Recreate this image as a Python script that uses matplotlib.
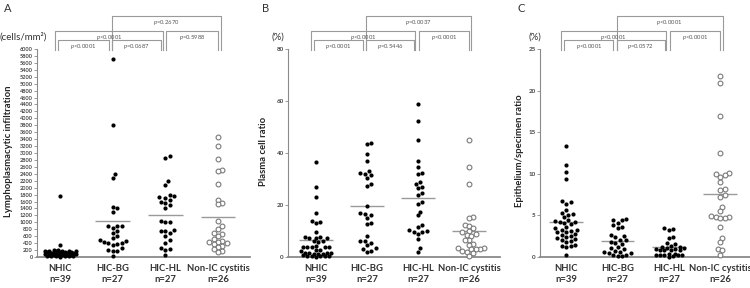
import numpy as np
import matplotlib
matplotlib.use('Agg')
import matplotlib.pyplot as plt
from matplotlib.transforms import blended_transform_factory

plt.rcParams['font.family'] = ['Lato', 'DejaVu Sans']
plt.rcParams['mathtext.fontset'] = 'custom'
plt.rcParams['mathtext.it'] = 'Lato:italic'
plt.rcParams['mathtext.rm'] = 'Lato'

groups = ['NHIC', 'HIC-BG', 'HIC-HL', 'Non-IC cystitis']
group_n = [39, 27, 27, 26]

# A: lymphoplasmacytic infiltration (cells/mm2)
lpi_nhic = [1750, 340, 200, 190, 185, 180, 175, 170, 165, 160, 150, 145, 140, 135, 130,
            125, 120, 115, 110, 105, 100, 95, 90, 85, 80, 75, 70, 65, 60, 55, 50, 45,
            40, 35, 30, 25, 20, 15, 10]
lpi_bg = [5700, 3800, 2400, 2290, 1440, 1400, 1300, 900, 900, 880, 850, 750, 700, 620,
          560, 480, 460, 420, 400, 400, 380, 360, 250, 200, 180, 180, 20]
lpi_hl = [2900, 2850, 2200, 2080, 1800, 1750, 1720, 1700, 1650, 1600, 1560, 1500, 1420,
          1030, 1000, 1000, 780, 760, 750, 700, 600, 480, 400, 250, 220, 200, 60]
lpi_nonic = [3450, 3200, 2820, 2500, 2480, 2100, 1650, 1550, 1520, 1030, 900, 820, 700,
             650, 600, 520, 450, 430, 420, 400, 380, 320, 300, 220, 180, 150]

# B: plasma cell ratio (%)
pc_nhic = [36.5, 27, 23, 17, 14, 13.5, 13.2, 9.5, 7.8, 7.6, 7.5, 7.4, 7.3, 6.2, 6, 5.8,
           4.2, 4, 4, 3.9, 3.8, 3.7, 2.8, 2.6, 2.5, 1.6, 1.5, 1.5, 1.4, 1.3, 1.2, 1.1,
           0.6, 0.5, 0.4, 0.3, 0.3, 0.2, 0.1]
pc_bg = [44, 43.5, 39.5, 37, 33, 32.5, 32, 31.5, 30.5, 28, 27.5, 19.5, 17, 16.5, 16, 15,
         13.2, 12.8, 8, 6.2, 6, 5.5, 4.5, 3.5, 3, 2.2, 2]
pc_hl = [59, 52.5, 45, 37, 34.5, 32.5, 32, 29, 28, 27, 26.5, 24.5, 24, 21, 20.5, 17.5, 16,
         12.5, 11.5, 10.5, 10, 9.5, 9.5, 9, 7, 3.5, 2]
pc_nonic = [45, 34.5, 28, 15.5, 15, 12.5, 12, 11, 10, 9.5, 9, 8.5, 8, 6.5, 6.5, 5, 4.5,
            3.5, 3.5, 3.2, 3, 3, 2.5, 2, 1.5, 0.5]

# C: epithelium/specimen ratio (%)
ep_nhic = [13.3, 11, 10.2, 9.4, 6.7, 6.6, 6.4, 5.6, 5.3, 5.2, 5.1, 4.8, 4.5, 4.3, 4.2,
           4.2, 4.1, 4.0, 3.6, 3.5, 3.3, 3.2, 3.1, 3.0, 3.0, 2.8, 2.6, 2.5, 2.4, 2.3, 2.2,
           2.0, 1.9, 1.8, 1.4, 1.3, 1.3, 1.2, 0.2]
ep_bg = [4.6, 4.5, 4.4, 4.1, 3.9, 3.6, 3.5, 2.6, 2.5, 2.4, 2.1, 2.0, 1.8, 1.7, 1.6, 1.2,
         1.1, 1.0, 0.7, 0.6, 0.6, 0.5, 0.5, 0.3, 0.2, 0.1, 0.1]
ep_hl = [3.5, 3.4, 3.2, 2.4, 2.3, 1.7, 1.6, 1.3, 1.2, 1.2, 1.1, 1.1, 1.0, 1.0, 0.9, 0.9,
         0.8, 0.8, 0.4, 0.4, 0.3, 0.3, 0.3, 0.2, 0.2, 0.1, 0.0]
ep_nonic = [21.7, 20.9, 17, 12.5, 10.1, 10.0, 9.8, 9.6, 9.0, 8.2, 8.0, 7.5, 7.2, 6.0, 5.5,
            4.9, 4.8, 4.8, 4.7, 4.7, 3.6, 2.3, 1.8, 1.0, 0.8, 0.3]

# p values: top (BG vs non-IC), NHIC vs HL, HL vs non-IC, NHIC vs BG, BG vs HL
p_a = ['=0.2670', '<0.0001', '=0.5988', '<0.0001', '=0.0687']
p_b = ['=0.0037', '<0.0001', '<0.0001', '<0.0001', '=0.5446']
p_c = ['<0.0001', '<0.0001', '<0.0001', '<0.0001', '=0.0572']

W, H = 750, 288
fig = plt.figure(figsize=(W / 100, H / 100), dpi=100)


def fx(px):
    return px / W


def fy(py):
    return 1 - py / H


def swarm_x(ax, x0, vals, d, maxw=17):
    # simple beeswarm in pixel space, capped width (dots overlap when crowded)
    vals = np.asarray(vals, float)
    pix = ax.transData.transform(np.column_stack([np.full(len(vals), x0), vals]))
    cx = pix[0, 0]
    out = np.zeros(len(vals))
    cands = [0.0]
    k = 1
    while k * d / 2 <= maxw:
        cands += [k * d / 2, -k * d / 2]
        k += 1
    placed = []
    for i in np.argsort(vals):
        py = pix[i, 1]
        best, best_dist = 0.0, -1
        for c in cands:
            px = cx + c
            md = min([np.hypot(px - qx, py - qy) for qx, qy in placed] + [1e9])
            if md >= d * 0.97:
                best = c
                break
            if md > best_dist + 0.3:
                best, best_dist = c, md
        placed.append((cx + best, py))
        out[i] = cx + best
    return ax.transData.inverted().transform(np.column_stack([out, pix[:, 1]]))[:, 0]


panels = [
    dict(left=37, right=250, xlim=(0.56, 4.61), ylim=6000, yticks=np.arange(0, 6001, 200),
         data=[lpi_nhic, lpi_bg, lpi_hl, lpi_nonic], p=p_a, letter='A', letter_x=4,
         ylabel='Lymphoplasmacytic infiltration', ylabel_x=9, unit='(cells/mm²)',
         unit_x=47, tick_fs=4.0),
    dict(left=288, right=500, xlim=(0.45, 4.61), ylim=80, yticks=np.arange(0, 81, 20),
         data=[pc_nhic, pc_bg, pc_hl, pc_nonic], p=p_b, letter='B', letter_x=262,
         ylabel='Plasma cell ratio', ylabel_x=263, unit='(%)', unit_x=284, tick_fs=4.5),
    dict(left=540, right=750, xlim=(0.49, 4.58), ylim=25, yticks=np.arange(0, 26, 5),
         data=[ep_nhic, ep_bg, ep_hl, ep_nonic], p=p_c, letter='C', letter_x=518,
         ylabel='Epithelium/specimen ratio', ylabel_x=520, unit='(%)', unit_x=541,
         tick_fs=4.5),
]

top_px, bot_px = 49, 257
axis_col = '#8a8a8a'
pos = np.arange(1, 5)

for pn in panels:
    ax = fig.add_axes([fx(pn['left']), fy(bot_px), fx(pn['right'] - pn['left']),
                       (bot_px - top_px) / H])
    ax.set_xlim(*pn['xlim'])
    ax.set_ylim(0, pn['ylim'])
    for s in ['top', 'right']:
        ax.spines[s].set_visible(False)
    ax.spines['left'].set_color(axis_col)
    ax.spines['left'].set_linewidth(0.8)
    ax.spines['bottom'].set_color(axis_col)
    ax.spines['bottom'].set_linewidth(1.3)
    ax.set_yticks(pn['yticks'])
    ax.tick_params(axis='y', length=2, width=0.6, color=axis_col, pad=1,
                   labelsize=pn['tick_fs'], labelcolor='#444')
    for lab in ax.get_yticklabels():
        lab.set_fontweight('bold')
    ax.set_xticks(pos)
    ax.set_xticklabels([f'{g}\nn={n}' for g, n in zip(groups, group_n)],
                       fontsize=6.8, fontweight='bold', color='#333', linespacing=1.35)
    ax.tick_params(axis='x', length=0, pad=5)

    for i, vals in enumerate(pn['data']):
        xs = swarm_x(ax, pos[i], vals, 4.4)
        m = np.mean(vals)
        ax.hlines(m, pos[i] - 0.33, pos[i] + 0.33, color='#9a9a9a', lw=1.0, zorder=1)
        if i < 3:
            ax.scatter(xs, vals, s=9, color='black', lw=0, zorder=3, clip_on=False)
        else:
            ax.scatter(xs, vals, s=12, facecolor='white', edgecolor='#7a7a7a', lw=0.8,
                       zorder=3, clip_on=False)

    fig.text(fx(pn['ylabel_x']), fy(151), pn['ylabel'], rotation=90,
             fontsize=6.8, fontweight='bold', color='#222', ha='center', va='center')
    fig.text(fx(pn['unit_x']), fy(37), pn['unit'], fontsize=7, color='#333',
             ha='right', va='center')
    fig.text(fx(pn['letter_x']), fy(8), pn['letter'], fontsize=8, color='#333',
             ha='left', va='center')

    # significance brackets
    tr = blended_transform_factory(ax.transData, fig.transFigure)
    brackets = [(1.98, 4.05, 16), (0.90, 2.95, 31), (3.02, 4.0, 31),
                (0.96, 1.92, 40), (1.98, 2.92, 40)]
    for (x1, x2, lvl), ptxt in zip(brackets, pn['p']):
        ax.plot([x1, x1, x2, x2], [fy(50), fy(lvl), fy(lvl), fy(50)], color='#9a9a9a',
                lw=0.8, transform=tr, clip_on=False)
        ax.text((x1 + x2) / 2, fy(lvl + 6.5), '$\\it{p}$' + ptxt, transform=tr,
                fontsize=4.2, color='#555', ha='center', va='center')

fig.savefig('out.png', dpi=100)
